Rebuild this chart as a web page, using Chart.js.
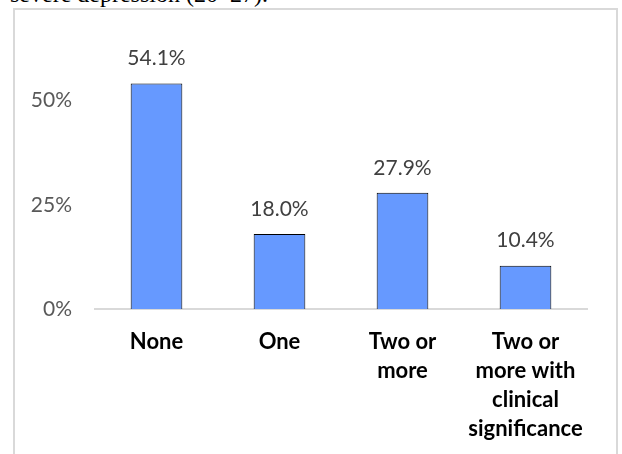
<!DOCTYPE html>
<html lang="en">
<head>
  <meta charset="UTF-8">
  <title>Comorbidities</title>
  <script src="https://cdn.jsdelivr.net/npm/chart.js"></script>
  <style>
    body {
      margin: 0;
      width: 622px;
      height: 454px;
      overflow: hidden;
      position: relative;
      background: #fff;
    }
    #caption {
      position: absolute;
      left: 10px;
      top: -20px;
      font-family: "Liberation Serif", "Times New Roman", serif;
      font-size: 24px;
      line-height: 28px;
      color: #000;
      white-space: nowrap;
    }
    #frame {
      position: absolute;
      left: 13px;
      top: 8px;
      width: 601px;
      height: 470px;
      border: 2px solid #d9d9d9;
    }
    #chartBox {
      position: absolute;
      left: 0;
      top: 0;
    }
  </style>
</head>
<body>

  <div id="caption">severe depression (20–27).</div>
  <div id="frame"></div>
  <canvas id="chartBox" width="622" height="454"></canvas>

  <script>
    // Categories and shares (%)
    const categories = [
      ['None'],
      ['One'],
      ['Two or', 'more'],
      ['Two or', 'more with', 'clinical', 'significance']
    ];
    const shares = [54.1, 18.0, 27.9, 10.4];
    const yTicks = [0, 25, 50];

    // Draws the value above each bar
    const valueLabels = {
      id: 'valueLabels',
      afterDatasetsDraw(chart) {
        const ctx = chart.ctx;
        const meta = chart.getDatasetMeta(0);
        ctx.save();
        ctx.font = '21px Lato, sans-serif';
        ctx.fillStyle = '#404040';
        ctx.textAlign = 'center';
        ctx.textBaseline = 'middle';
        meta.data.forEach((bar, i) => {
          ctx.fillText(shares[i].toFixed(1) + '%', bar.x, bar.y - 25);
        });
        ctx.restore();
      }
    };

    const ctx = document.getElementById('chartBox').getContext('2d');
    const chart = new Chart(ctx, {
      type: 'bar',
      data: {
        labels: categories,
        datasets: [{
          data: shares,
          backgroundColor: '#6699ff',
          borderColor: '#000000',
          borderWidth: 1,
          barPercentage: 0.42,
          categoryPercentage: 1
        }]
      },
      options: {
        responsive: false,
        animation: false,
        layout: { padding: { left: 0, right: 35, top: 59, bottom: 0 } },
        plugins: {
          legend: { display: false },
          tooltip: { enabled: false }
        },
        scales: {
          x: {
            grid: { display: false, drawTicks: false },
            border: { display: true, color: '#d9d9d9', width: 2 },
            ticks: {
              color: '#000',
              padding: 18,
              maxRotation: 0,
              autoSkip: false,
              font: { family: 'Lato', size: 22, weight: 'bold', lineHeight: 29 / 22 }
            },
            afterFit(scale) { scale.height = 145; }
          },
          y: {
            min: 0,
            max: 60,
            grid: { display: false, drawTicks: false },
            border: { display: false },
            afterBuildTicks(scale) {
              scale.ticks = yTicks.map(v => ({ value: v }));
            },
            ticks: {
              color: '#595959',
              padding: 23,
              font: { family: 'Lato', size: 21 },
              callback: v => v + '%'
            },
            afterFit(scale) { scale.width = 95; }
          }
        }
      },
      plugins: [valueLabels]
    });
  </script>
</body>
</html>
